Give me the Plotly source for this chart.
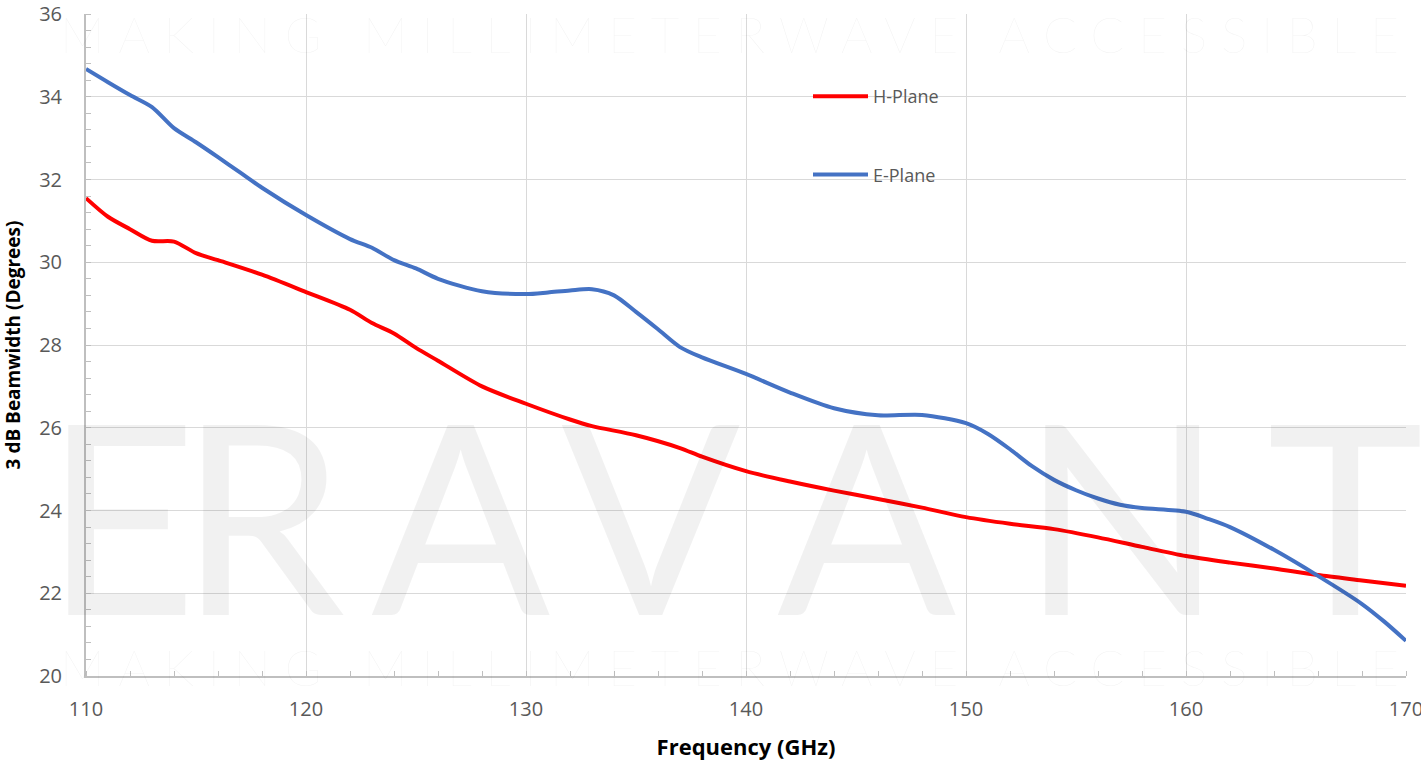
import plotly.graph_objects as go

# Beamwidth measurements (3 dB) versus frequency
freq_e = [110, 111, 112, 113, 114, 115, 116, 117, 118, 120, 122, 123, 124, 125, 126,
          128, 130, 131, 132, 133, 134, 135, 136, 137, 138, 140, 142, 144, 146, 148,
          150, 151, 152, 153, 154, 155, 156, 157, 158, 160, 161, 162, 164, 166, 168,
          169, 170]
e_plane = [34.67, 34.35, 34.04, 33.75, 33.24, 32.90, 32.54, 32.17, 31.80, 31.14, 30.56,
           30.35, 30.05, 29.85, 29.60, 29.30, 29.23, 29.27, 29.32, 29.35, 29.20, 28.80,
           28.38, 27.95, 27.70, 27.30, 26.85, 26.47, 26.30, 26.31, 26.11, 25.85, 25.48,
           25.07, 24.74, 24.49, 24.29, 24.14, 24.06, 23.97, 23.80, 23.60, 23.05, 22.42,
           21.74, 21.32, 20.85]

freq_h = [110, 111, 112, 113, 114, 115, 116, 118, 120, 122, 123, 124, 125, 126, 128,
          130, 132, 133, 135, 137, 138, 140, 142, 144, 146, 148, 150, 152, 154, 156,
          158, 160, 162, 164, 166, 168, 170]
h_plane = [31.55, 31.10, 30.80, 30.52, 30.50, 30.22, 30.05, 29.70, 29.28, 28.85, 28.53,
           28.28, 27.93, 27.62, 27.00, 26.58, 26.20, 26.04, 25.82, 25.51, 25.30, 24.95,
           24.70, 24.48, 24.28, 24.07, 23.84, 23.68, 23.55, 23.35, 23.12, 22.90, 22.74,
           22.60, 22.44, 22.31, 22.18]

x_ticks = [110, 120, 130, 140, 150, 160, 170]
y_ticks = [20, 22, 24, 26, 28, 30, 32, 34, 36]

FONT = "Open Sans"
TICK_COLOR = "#595959"
GRID = "#d9d9d9"
AXIS = "#bfbfbf"
MARK = "rgba(0,0,0,0.055)"

fig = go.Figure()
fig.add_trace(go.Scatter(
    x=freq_h, y=h_plane, name="H-Plane", mode="lines",
    line=dict(color="#ff0000", width=4, shape="spline", smoothing=0.8),
    legendgroup="h",
))
fig.add_trace(go.Scatter(
    x=freq_e, y=e_plane, name="E-Plane", mode="lines",
    line=dict(color="#4472c4", width=4, shape="spline", smoothing=0.8),
    legendgroup="e",
))

# Background brand marks
annotations = []
tagline = "MAKING MILLIMETERWAVE ACCESSIBLE"
for py in (34, 667):
    annotations.append(dict(
        xref="paper", yref="paper", x=(58 - 86) / 1320, y=(676 - py) / 662,
        xanchor="left", yanchor="middle",
        text=f'<span style="letter-spacing:13.6px">{tagline}</span>',
        showarrow=False, font=dict(family="Lato", size=50, color=MARK, weight=200),
    ))
brand = [("E", 120), ("R", 262), ("A", 462), ("V", 652), ("A", 868), ("N", 1122), ("T", 1345)]
for ch, px in brand:
    annotations.append(dict(
        xref="paper", yref="paper", x=(px - 86) / 1320, y=(676 - 512) / 662,
        xanchor="center", yanchor="middle", text=ch, showarrow=False,
        font=dict(family="Lato", size=265, color=MARK, weight=400),
    ))

fig.update_layout(
    width=1421, height=761,
    margin=dict(l=86, r=15, t=14, b=85, autoexpand=False),
    paper_bgcolor="white", plot_bgcolor="rgba(0,0,0,0)",
    font=dict(family=FONT, color=TICK_COLOR),
    showlegend=True,
    legend=dict(
        x=(808 - 86) / 1320, y=(676 - 78) / 662, xanchor="left", yanchor="top",
        bgcolor="rgba(0,0,0,0)", font=dict(family=FONT, size=18, color=TICK_COLOR),
        tracegroupgap=52, itemwidth=55,
    ),
    annotations=annotations,
    xaxis=dict(
        range=[110, 170], tickvals=x_ticks, ticktext=[str(v) for v in x_ticks],
        showgrid=True, gridcolor=GRID, gridwidth=1.3,
        showline=True, linecolor=AXIS, linewidth=2,
        ticks="", tickfont=dict(family=FONT, size=20, color=TICK_COLOR),
        ticklabelstandoff=14, automargin=False, ticklabeloverflow="allow",
        minor=dict(dtick=2, ticks="inside", ticklen=5, tickcolor=AXIS, tickwidth=1.3, showgrid=False),
        title=dict(text="<b>Frequency (GHz)</b>", font=dict(family=FONT, size=22, color="#000000"), standoff=20),
        zeroline=False,
    ),
    yaxis=dict(
        range=[20, 36], tickvals=y_ticks, ticktext=[str(v) for v in y_ticks],
        showgrid=True, gridcolor=GRID, gridwidth=1.3,
        showline=True, linecolor=AXIS, linewidth=2,
        ticks="", tickfont=dict(family=FONT, size=20, color=TICK_COLOR),
        ticklabelstandoff=18, automargin=False,
        minor=dict(dtick=0.4, ticks="inside", ticklen=5, tickcolor=AXIS, tickwidth=1.3, showgrid=False),
        title=dict(text="<b>3 dB Beamwidth (Degrees)</b>", font=dict(family=FONT, size=19, color="#000000"), standoff=14),
        zeroline=False,
    ),
)

fig.write_html("out.html")
